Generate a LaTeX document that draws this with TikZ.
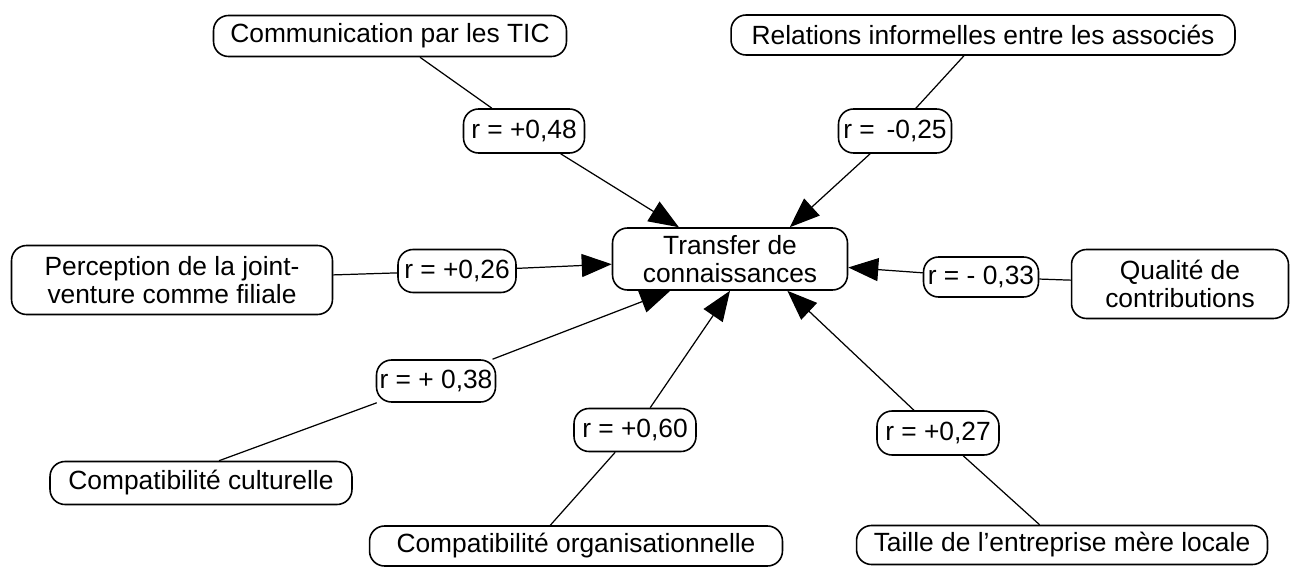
\documentclass[tikz,border=0pt]{standalone}
\usepackage{fontspec}
\setmainfont{Liberation Sans}
\usepackage{tikz}
\usetikzlibrary{arrows.meta}

\begin{document}
\begin{tikzpicture}[x=0.02cm, y=-0.02cm,
    box/.style={draw, line width=0.9pt, rounded corners=0.3cm, align=center, inner sep=0pt, font=\fontsize{15}{16}\selectfont},
    rbox/.style={box, minimum height=0.88cm},
    link/.style={line width=0.7pt},
    arr/.style={line width=0.7pt, -{Triangle[length=0.6cm,width=0.46cm]}}]
    \useasboundingbox (0,0) rectangle (1293,567);
    % centre
    \node[box, minimum width=4.7cm, minimum height=1.24cm] (trans) at (730,259) {Transfer de\\connaissances};
    % facteurs
    \node[box, minimum width=7.06cm, minimum height=0.82cm] (tic) at (390,36) {Communication par les TIC};
    \node[box, minimum width=10.08cm, minimum height=0.8cm] (rel) at (983,35) {Relations informelles entre les associés};
    \node[box, minimum width=6.42cm, minimum height=1.38cm] (perc) at (172,280) {Perception de la joint-\\venture comme filiale};
    \node[box, minimum width=4.34cm, minimum height=1.38cm] (qual) at (1180,284) {Qualité de\\contributions};
    \node[box, minimum width=6.04cm, minimum height=0.86cm] (cult) at (201,483) {Compatibilité culturelle};
    \node[box, minimum width=8.26cm, minimum height=0.8cm] (org) at (576,546) {Compatibilité organisationnelle};
    \node[box, minimum width=8.22cm, minimum height=0.78cm] (taille) at (1062,545) {Taille de l’entreprise mère locale};
    % coefficients
    \node[rbox, minimum width=2.42cm] (r48) at (524,131) {r = +0,48};
    \node[rbox, minimum width=2.26cm] (r25) at (895,131) {r = \,-0,25};
    \node[rbox, minimum width=2.36cm, minimum height=0.86cm] (r26) at (457,271) {r = +0,26};
    \node[rbox, minimum width=2.3cm, minimum height=0.8cm] (r33) at (981,277) {r = - 0,33};
    \node[rbox, minimum width=2.38cm, minimum height=0.84cm] (r38) at (436,381) {r = + 0,38};
    \node[rbox, minimum width=2.44cm, minimum height=0.86cm] (r60) at (635,430) {r = +0,60};
    \node[rbox, minimum width=2.44cm] (r27) at (938,433) {r = +0,27};

    \draw[link] (tic) -- (r48);
    \draw[link] (rel) -- (r25);
    \draw[link] (perc) -- (r26);
    \draw[link] (qual) -- (r33);
    \draw[link] (cult.51) -- (r38);
    \draw[link] (org.141) -- (r60);
    \draw[link] (taille) -- (r27);

    \draw[arr] (r48) -- (trans);
    \draw[arr] (r25) -- (trans.28);
    \draw[arr] (r26) -- (trans);
    \draw[arr] (r33) -- (trans);
    \draw[arr] (r38) -- (trans.208);
    \draw[arr] (r60) -- (trans.south);
    \draw[arr] (r27) -- (trans.-29);
\end{tikzpicture}
\end{document}
